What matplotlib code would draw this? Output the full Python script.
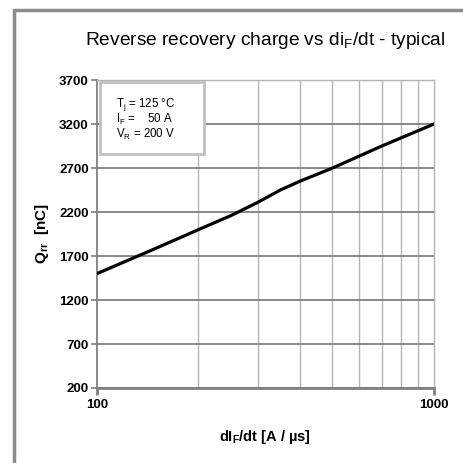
import numpy as np
from matplotlib import pyplot as plt
from matplotlib.patches import Rectangle

# curve
di_dt = [100, 150, 200, 250, 300, 350, 400, 500, 700, 1000]
qrr = [1500, 1790, 2000, 2160, 2310, 2450, 2550, 2700, 2950, 3200]

y_ticks = [200, 700, 1200, 1700, 2200, 2700, 3200, 3700]
x_ticks = [100, 1000]
conditions = ["T$_\\mathregular{j}$ = 125 °C",
              "I$_\\mathregular{F}$ =    50 A",
              "V$_\\mathregular{R}$ = 200 V"]

narrow = ["Liberation Sans Narrow", "Liberation Sans", "DejaVu Sans"]
plt.rcParams["font.family"] = ["Liberation Sans", "DejaVu Sans"]
plt.rcParams["mathtext.default"] = "regular"

fig = plt.figure(figsize=(4.64, 4.63), dpi=100)
ax = fig.add_axes([0.209, 0.162, 0.726, 0.665])

# outer frame (only top and left visible)
fig.patches.append(Rectangle((14/464, -0.1), 1.2, (463-10)/463 + 0.1,
                             transform=fig.transFigure, fill=False,
                             edgecolor="#8c8c8c", linewidth=2.5, clip_on=False))

ax.plot(di_dt, qrr, color="black", linewidth=2.3, zorder=3)

ax.set_xscale("log")
ax.set_xlim(100, 1000)
ax.set_ylim(200, 3700)
ax.set_yticks(y_ticks)
ax.set_yticklabels([str(v) for v in y_ticks], family=narrow, fontweight="bold", fontsize=9.5)
ax.set_xticks(x_ticks)
ax.set_xticklabels([str(v) for v in x_ticks], family=narrow, fontweight="bold", fontsize=9.5)
ax.set_xticks(np.arange(200, 1000, 100), minor=True)
ax.set_xticklabels([], minor=True)

ax.grid(axis="y", which="major", color="#808080", linewidth=1.3)
ax.grid(axis="x", which="minor", color="#b4b4b4", linewidth=1.0)
ax.tick_params(axis="x", which="minor", length=0)
ax.tick_params(axis="y", which="major", length=4, width=1.2, color="#808080", pad=2)
ax.tick_params(axis="x", which="major", length=5, width=2, color="#808080", pad=3)

ax.spines["left"].set_color("#808080")
ax.spines["left"].set_linewidth(1.3)
ax.spines["bottom"].set_color("#808080")
ax.spines["bottom"].set_linewidth(2)
ax.spines["top"].set_color("#b4b4b4")
ax.spines["top"].set_linewidth(1.0)
ax.spines["right"].set_color("#b4b4b4")
ax.spines["right"].set_linewidth(1.0)

ax.set_title("Reverse recovery charge vs di$_\\mathregular{F}$/dt - typical",
             fontsize=13.8, pad=25)
ax.set_xlabel("dI$_\\mathregular{F}$/dt [A / µs]", family=narrow,
              fontweight="bold", fontsize=10.5, labelpad=12)
ax.set_ylabel("Q$_\\mathregular{rr}$  [nC]", family=narrow,
              fontweight="bold", fontsize=11, labelpad=6)

# conditions box
ax.add_patch(Rectangle((0.008, 0.76), 0.31, 0.235, transform=ax.transAxes,
                       facecolor="white", edgecolor="#c0c0c0", linewidth=2, zorder=4))
for i, txt in enumerate(conditions):
    ax.text(0.055, 0.92 - i * 0.048, txt, transform=ax.transAxes,
            fontsize=8.3, va="center", zorder=5)

fig.savefig("out.png", dpi=100)
